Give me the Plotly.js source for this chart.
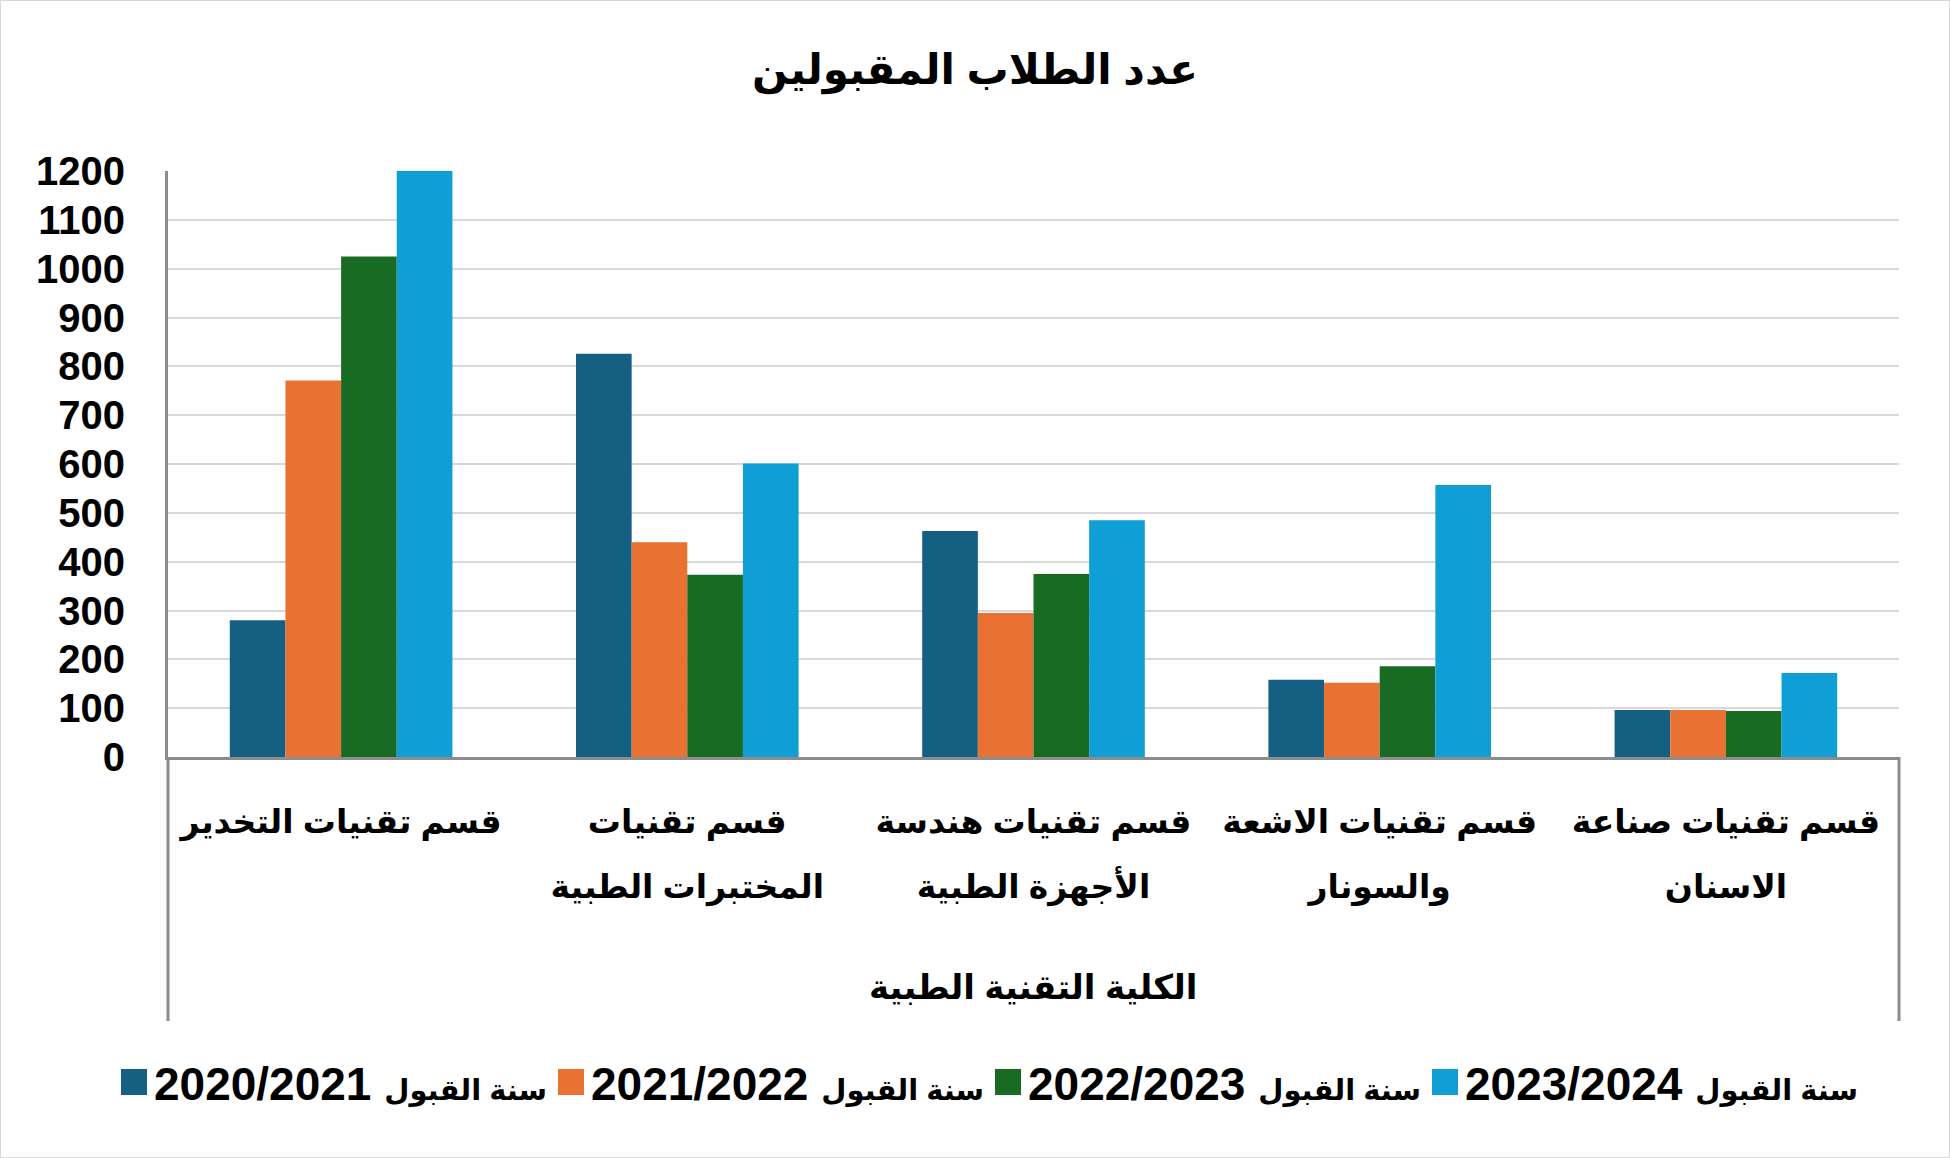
<!DOCTYPE html>
<html>
<head>
<meta charset="utf-8">
<script src="https://cdn.plot.ly/plotly-3.0.1.min.js"></script>
<style>
html,body{margin:0;padding:0;background:#fff;}
#chart{width:1950px;height:1158px;box-sizing:border-box;border:1px solid #d9d9d9;}
</style>
</head>
<body>
<div id="chart"></div>
<script>
const chartTitle = "عدد الطلاب المقبولين";
const groupLabel = "الكلية التقنية الطبية";
const categories = [
  "قسم تقنيات التخدير",
  "قسم تقنيات<br>المختبرات الطبية",
  "قسم تقنيات هندسة<br>الأجهزة الطبية",
  "قسم تقنيات الاشعة<br>والسونار",
  "قسم تقنيات صناعة<br>الاسنان"
];
const seriesPrefix = "سنة القبول";
const seriesYears = ["2020/2021", "2021/2022", "2022/2023", "2023/2024"];
const values2020 = [280, 826, 463, 158, 96];
const values2021 = [771, 440, 295, 152, 96];
const values2022 = [1025, 373, 375, 186, 94];
const values2023 = [1200, 601, 485, 557, 172];
const yTicks = [0,100,200,300,400,500,600,700,800,900,1000,1100,1200];

const colors = ["#156082", "#E97132", "#196B24", "#0F9ED5"];
const allValues = [values2020, values2021, values2022, values2023];

const FONT = "Liberation Sans, Arial, DejaVu Sans, sans-serif";

const traces = allValues.map((v, i) => ({
  type: "bar",
  x: categories,
  y: v,
  name: '<span style="font-size:29px">' + seriesPrefix + '</span> ' + seriesYears[i],
  marker: {color: colors[i], line: {width: 0}},
  hoverinfo: "x+y"
}));

const W = 1950, H = 1158;
const L = 167, R = 52, T = 170, B = 402;
const plotH = H - T - B;
const plotW = W - L - R;

const layout = {
  width: W, height: H,
  paper_bgcolor: "rgba(0,0,0,0)",
  plot_bgcolor: "#ffffff",
  margin: {l: L, r: R, t: T, b: B},
  barmode: "group",
  bargap: 0.357,
  bargroupgap: 0,
  title: {
    text: chartTitle,
    x: 974 / W, xanchor: "center",
    y: 1 - 68 / H, yanchor: "middle",
    font: {family: FONT, size: 42, color: "#000", weight: "bold"}
  },
  xaxis: {
    type: "category",
    tickvals: categories,
    ticktext: categories.map(c => '<span style="font-size:33px">' + c + '</span>'),
    tickangle: 0,
    showgrid: false,
    showline: true,
    linecolor: "#8c8c8c",
    linewidth: 3,
    ticks: "",
    tickfont: {family: FONT, size: 50, color: "#000", weight: "bold"},
    ticklabelstandoff: 13,
    zeroline: false,
    fixedrange: true
  },
  yaxis: {
    range: [0, 1200],
    tickvals: yTicks,
    showgrid: true,
    gridcolor: "#d9d9d9",
    gridwidth: 2,
    showline: true,
    linecolor: "#8c8c8c",
    linewidth: 3,
    zeroline: false,
    ticks: "",
    ticklabelstandoff: 32,
    tickfont: {family: FONT, size: 40, color: "#000", weight: "bold"},
    fixedrange: true
  },
  showlegend: true,
  legend: {
    orientation: "h",
    x: (113 - L) / plotW, xanchor: "left",
    y: -(1081 - (T + plotH)) / plotH, yanchor: "middle",
    font: {family: FONT, size: 46, color: "#000", weight: "bold"},
    itemwidth: 30,
    entrywidth: 392,
    entrywidthmode: "pixels",
    traceorder: "normal",
    bgcolor: "rgba(0,0,0,0)"
  },
  annotations: [{
    text: groupLabel,
    xref: "paper", yref: "paper",
    x: 0.5, y: -(986 - (T + plotH)) / plotH,
    xanchor: "center", yanchor: "middle",
    showarrow: false,
    font: {family: FONT, size: 34, color: "#000", weight: "bold"}
  }],
  shapes: [
    {type: "line", xref: "paper", yref: "paper", x0: 0, x1: 0, y0: 0, y1: -(1020 - (T + plotH)) / plotH,
     line: {color: "#8c8c8c", width: 3}},
    {type: "line", xref: "paper", yref: "paper", x0: 1, x1: 1, y0: 0, y1: -(1020 - (T + plotH)) / plotH,
     line: {color: "#8c8c8c", width: 3}}
  ]
};

Plotly.newPlot("chart", traces, layout, {displayModeBar: false, staticPlot: true}).then(() => {
  document.querySelectorAll(".legend .legendpoints path").forEach(p => {
    p.setAttribute("d", "M13,13H-13V-13H13Z");
  });
});
</script>
</body>
</html>
